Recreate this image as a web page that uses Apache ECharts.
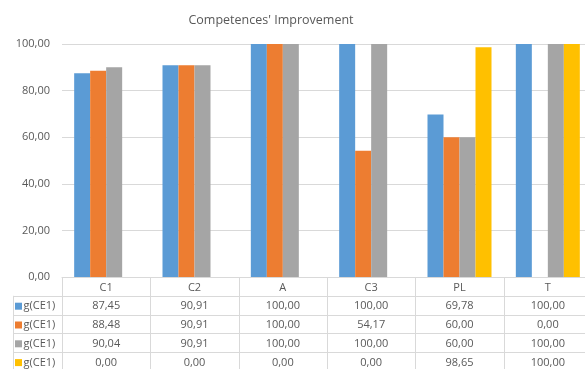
<!DOCTYPE html>
<html>
<head>
<meta charset="utf-8">
<script src="https://cdn.jsdelivr.net/npm/echarts@6/dist/echarts.min.js"></script>
<style>
  html, body { margin: 0; padding: 0; background: #fff; }
  #chart { width: 585px; height: 369px; }
</style>
</head>
<body>
<div id="chart"></div>
<script>
// Competence categories and the four g(CE1) measurements per category
const categories = ['C1', 'C2', 'A', 'C3', 'PL', 'T'];
const seriesNames = ['g(CE1)', 'g(CE1)', 'g(CE1)', 'g(CE1)'];
const blueValues = [87.45, 90.91, 100.00, 100.00, 69.78, 100.00];
const orangeValues = [88.48, 90.91, 100.00, 54.17, 60.00, 0.00];
const grayValues = [90.04, 90.91, 100.00, 100.00, 60.00, 100.00];
const yellowValues = [0.00, 0.00, 0.00, 0.00, 98.65, 100.00];
const yTicks = [0, 20, 40, 60, 80, 100];

const colors = ['#5B9BD5', '#ED7D31', '#A5A5A5', '#FFC000'];
const allValues = [blueValues, orangeValues, grayValues, yellowValues];
const textColor = '#595959';
const lineColor = '#D9D9D9';
const fontFamily = '"Open Sans", "Noto Sans", sans-serif';

const fmt = v => v.toFixed(2).replace('.', ',');

const chart = echarts.init(document.getElementById('chart'), null, { renderer: 'canvas' });

const option = {
  animation: false,
  backgroundColor: '#ffffff',
  title: {
    text: "Competences' Improvement",
    left: 266,
    top: 9,
    textAlign: 'center',
    textStyle: { color: textColor, fontSize: 12.5, fontWeight: 'normal', fontFamily }
  },
  grid: {
    left: 62, top: 44, width: 530, height: 233,
    outerBoundsMode: 'none'
  },
  xAxis: {
    type: 'category',
    data: categories,
    axisLine: { lineStyle: { color: lineColor } },
    axisTick: { show: false },
    axisLabel: { show: false }
  },
  yAxis: {
    type: 'value',
    min: yTicks[0],
    max: yTicks[yTicks.length - 1],
    interval: yTicks[1] - yTicks[0],
    axisLine: { show: false },
    axisTick: { show: false },
    axisLabel: { color: textColor, fontSize: 11, fontFamily, margin: 12, formatter: v => fmt(v) },
    splitLine: { lineStyle: { color: lineColor } }
  },
  series: allValues.map((vals, i) => ({
    name: seriesNames[i],
    type: 'bar',
    data: vals,
    barWidth: 16,
    barGap: '0%',
    itemStyle: { color: colors[i] }
  }))
};
chart.setOption(option);

// Data table under the plot area, aligned to the category axis
function buildTable() {
  const c0 = chart.convertToPixel({ xAxisIndex: 0 }, 0);
  const c1 = chart.convertToPixel({ xAxisIndex: 0 }, 1);
  const band = c1 - c0;
  const axisY = chart.convertToPixel({ yAxisIndex: 0 }, 0);
  const rowH = 18.8;
  const tableLeft = 13;
  const plotLeft = c0 - band / 2;
  const bottom = 369;
  const els = [];
  const textStyle = (x, y, t, align) => ({
    type: 'text', silent: true,
    style: { x, y, text: t, fill: textColor, font: '11px ' + fontFamily, textAlign: align || 'center', textVerticalAlign: 'middle' }
  });
  const line = (x1, y1, x2, y2) => ({
    type: 'line', silent: true,
    shape: { x1, y1, x2, y2 },
    style: { stroke: lineColor, lineWidth: 1 }
  });

  // vertical rules
  for (let i = 0; i <= categories.length; i++) {
    const x = Math.round(plotLeft + i * band) + 0.5;
    els.push(line(x, axisY, x, bottom));
  }
  els.push(line(tableLeft + 0.5, axisY + rowH, tableLeft + 0.5, bottom));
  // horizontal rules
  for (let r = 1; r <= allValues.length; r++) {
    const y = Math.round(axisY + r * rowH) + 0.5;
    els.push(line(tableLeft, y, 585, y));
  }
  // header row
  categories.forEach((c, i) => {
    els.push(textStyle(c0 + i * band, axisY + rowH / 2 + 1, c));
  });
  // series rows
  allValues.forEach((vals, r) => {
    const yc = axisY + rowH * (r + 1.5) + 1;
    els.push({
      type: 'rect', silent: true,
      shape: { x: 15, y: yc - 3.5, width: 7, height: 7 },
      style: { fill: colors[r] }
    });
    els.push(textStyle(23.5, yc, seriesNames[r], 'left'));
    vals.forEach((v, i) => {
      els.push(textStyle(c0 + i * band, yc, fmt(v)));
    });
  });
  chart.setOption({ graphic: { elements: els } });
}
buildTable();
</script>
</body>
</html>
